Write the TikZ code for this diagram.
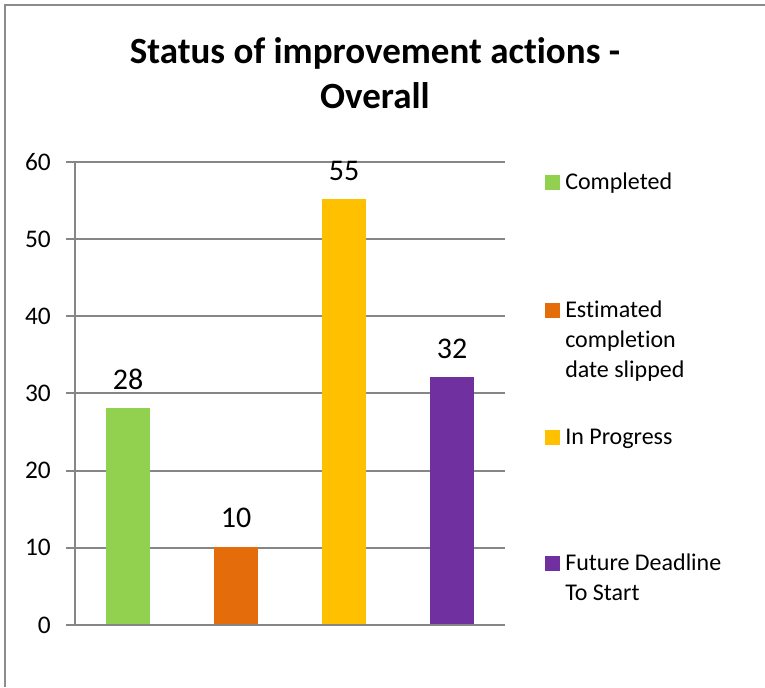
\documentclass[tikz,border=0pt]{standalone}
\usepackage{fontspec}
\setmainfont{Carlito}[Ligatures={NoCommon}]
\definecolor{cgreen}{HTML}{92D050}
\definecolor{corange}{HTML}{E46C0A}
\definecolor{cyellow}{HTML}{FFC000}
\definecolor{cpurple}{HTML}{7030A0}
\definecolor{cgrid}{HTML}{868686}
\definecolor{cframe}{HTML}{8C8C8C}
\begin{document}
\begin{tikzpicture}[x=0.75pt,y=-0.75pt,
  grid/.style={draw=cgrid,line width=1.5pt},
  axlab/.style={anchor=east,inner sep=0pt,font=\fontsize{19}{22}\selectfont},
  datlab/.style={anchor=center,inner sep=0pt,font=\fontsize{22.5}{26}\selectfont},
  legtxt/.style={anchor=base west,inner sep=0pt,align=left,font=\fontsize{18}{22.5}\selectfont},
  legbox/.style={minimum size=15*0.75pt,inner sep=0pt,anchor=south west},
  bar/.style={inner sep=0pt,anchor=south,minimum width=44*0.75pt}]
\useasboundingbox (0,0) rectangle (765,687);
\fill[white] (0,0) rectangle (765,687);
% frame
\draw[cframe,line width=1.5pt] (5,687) -- (5,5) -- (765,5);
% title
\node[anchor=base,inner sep=0pt,align=center,font=\bfseries\fontsize{27.75}{33.75}\selectfont] (title) at (375,108) {Status of improvement actions -\\Overall};
% gridlines and axis
\foreach \v/\n in {0/g0,10/g1,20/g2,30/g3,40/g4,50/g5,60/g6}{
  \coordinate (\n l) at (66,{625-\v*7.717});
  \coordinate (\n r) at (505,{625-\v*7.717});
  \draw[grid] (\n l) -- (\n r);
  \node[axlab] (lab\n) at (51,{625-\v*7.717}) {\v};
}
\draw[grid] (75,625) coordinate (ybot) -- (75,162) coordinate (ytop);
\draw[grid] (g0l) -- (g0r);
% bars
\foreach \c/\v/\col/\n in {128/28/cgreen/b1,236/10/corange/b2,344/55/cyellow/b3,452/32/cpurple/b4}{
  \node[bar,fill=\col,minimum height={\v*7.717*0.75pt}] (\n) at (\c,624) {};
  \node[datlab] (d\n) at (\c,{625-\v*7.717-29.5}) {\v};
}
% legend
\node[legbox,fill=cgreen] (k1) at (545,190) {};
\node[legtxt] (t1) at (565,189) {Completed};
\node[legbox,fill=corange] (k2) at (545,318) {};
\node[legtxt] (t2) at (565,377) {Estimated\\completion\\date slipped};
\node[legbox,fill=cyellow] (k3) at (545,445) {};
\node[legtxt] (t3) at (565,444) {In Progress};
\node[legbox,fill=cpurple] (k4) at (545,571) {};
\node[legtxt] (t4) at (565,600) {Future Deadline\\To Start};
\end{tikzpicture}
\end{document}
